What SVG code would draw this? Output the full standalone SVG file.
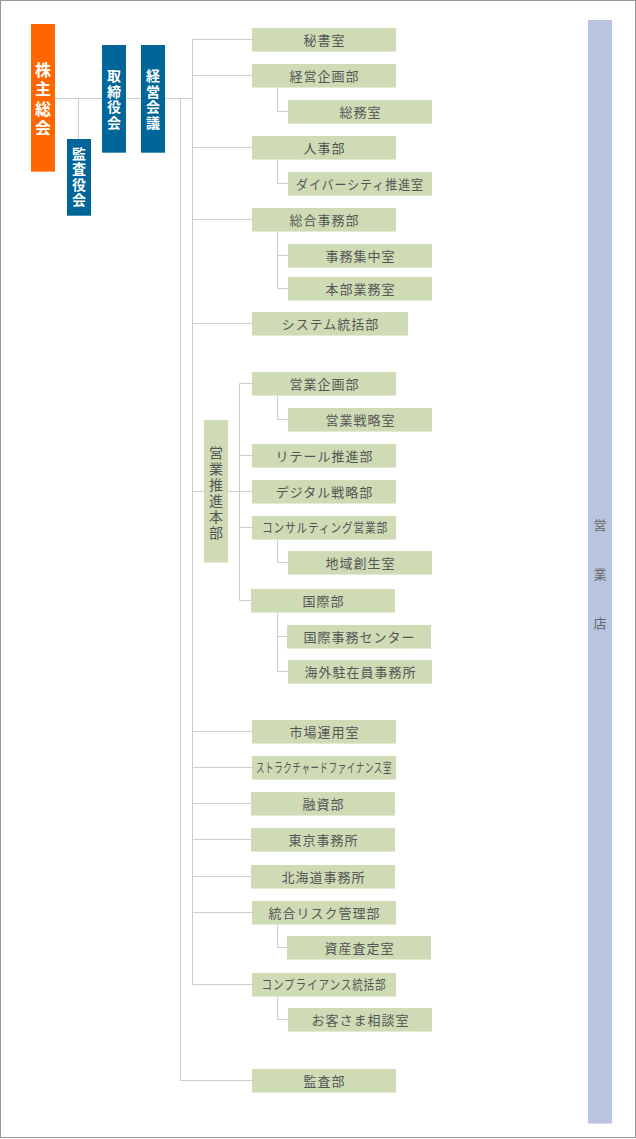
<svg xmlns="http://www.w3.org/2000/svg" width="636" height="1139" viewBox="0 0 636 1139">
<style>
.ln{stroke:#cccccc;stroke-width:1;fill:none}
.g{fill:#cfdbb5}
.gb{fill:#e4ead4}
.t{font-family:"Noto Sans CJK JP","Noto Sans",sans-serif;font-size:13px;fill:#555555;letter-spacing:1px;text-anchor:middle}
.v{font-family:"Noto Sans CJK JP","Noto Sans",sans-serif;text-anchor:middle;writing-mode:vertical-rl}
.w{fill:#ffffff;font-size:14px;font-weight:bold;letter-spacing:1.5px}
.o{fill:#ff6600}
.ob{fill:#ff9a5a}
.b{fill:#006699}
.bb{fill:#4d94b8}
</style>
<rect x="0.5" y="0.5" width="635" height="1137" fill="#ffffff" stroke="#999999"/>
<g id="connectors">
<path class="ln" d="M55 98.5H192.5M78.5 98.5V139M180.5 98.5V1080.5H252M192.5 39V984.5"/>
<path class="ln" d="M192.5 39.5H252M192.5 75.5H252M192.5 147.5H252M192.5 219.5H252M192.5 323.5H252M192.5 491.5H204M228 491.5H252M192.5 731.5H252M192.5 767.5H252M192.5 803.5H251M192.5 839.5H251M192.5 876.5H251M192.5 912.5H252M192.5 984.5H252"/>
<path class="ln" d="M239.5 383.5V600.5H251M239.5 383.5H252M239.5 455.5H252M239.5 527.5H252"/>
<path class="ln" d="M277.5 87V111.5H288M277.5 159V183.5H288M277.5 231V288.5H288M277.5 255.5H288M277.5 395V419.5H288M277.5 539V562.5H288M277.5 612V671.5H288M277.5 636.5H287M277.5 924V947.5H287M277.5 996V1019.5H288"/>
</g>
<g id="n-kabunushi"><rect class="o" x="31" y="24" width="24" height="148"/><rect class="ob" x="31" y="171" width="24" height="1"/>
<text class="v" fill="#ffffff" font-size="16" font-weight="bold" letter-spacing="3.5" x="43" y="100.75">株主総会</text></g>
<g id="n-kansayaku"><rect class="b" x="67" y="139" width="24" height="77"/><rect class="bb" x="67" y="215" width="24" height="1"/>
<text class="v w" x="79" y="177.25">監査役会</text></g>
<g id="n-torishimariyaku"><rect class="b" x="102" y="45" width="24" height="108"/><rect class="bb" x="102" y="152" width="24" height="1"/>
<text class="v w" x="114" y="100">取締役会</text></g>
<g id="n-keieikaigi"><rect class="b" x="141" y="45" width="24" height="108"/><rect class="bb" x="141" y="152" width="24" height="1"/>
<text class="v w" x="153" y="100">経営会議</text></g>
<g id="n-eigyoten"><rect x="588" y="20" width="24" height="1104" fill="#b9c4de"/><rect x="588" y="1123" width="24" height="1" fill="#d3daeb"/>
<text class="v" fill="#666666" font-size="13" letter-spacing="36" x="600" y="592">営業店</text></g>
<g id="n-eigyosuishin"><rect class="g" x="204" y="420" width="24" height="143"/><rect class="gb" x="204" y="562" width="24" height="1"/>
<text class="v" fill="#555555" font-size="14" letter-spacing="2" x="216" y="494">営業推進本部</text></g>
<g id="n-hisho"><rect class="g" x="252" y="28" width="144" height="24"/><rect class="gb" x="252" y="51" width="144" height="1"/><text class="t" x="324.5" y="44.5">秘書室</text></g>
<g id="n-keieikikaku"><rect class="g" x="252" y="64" width="144" height="24"/><rect class="gb" x="252" y="87" width="144" height="1"/><text class="t" x="324.5" y="80.5">経営企画部</text></g>
<g id="n-somu"><rect class="g" x="288" y="100" width="144" height="24"/><rect class="gb" x="288" y="123" width="144" height="1"/><text class="t" x="360.5" y="116.5">総務室</text></g>
<g id="n-jinji"><rect class="g" x="252" y="136" width="144" height="24"/><rect class="gb" x="252" y="159" width="144" height="1"/><text class="t" x="324.5" y="152.5">人事部</text></g>
<g id="n-diversity"><rect class="g" x="288" y="172" width="144" height="24"/><rect class="gb" x="288" y="195" width="144" height="1"/><text class="t" x="360" y="188.5" letter-spacing="0" textLength="128" lengthAdjust="spacingAndGlyphs">ダイバーシティ推進室</text></g>
<g id="n-sogojimu"><rect class="g" x="252" y="208" width="144" height="24"/><rect class="gb" x="252" y="231" width="144" height="1"/><text class="t" x="324.5" y="224.5">総合事務部</text></g>
<g id="n-jimushuchu"><rect class="g" x="288" y="244" width="144" height="24"/><rect class="gb" x="288" y="267" width="144" height="1"/><text class="t" x="360.5" y="260.5">事務集中室</text></g>
<g id="n-honbugyomu"><rect class="g" x="288" y="277" width="144" height="24"/><rect class="gb" x="288" y="300" width="144" height="1"/><text class="t" x="360.5" y="293.5">本部業務室</text></g>
<g id="n-system"><rect class="g" x="252" y="312" width="156" height="24"/><rect class="gb" x="252" y="335" width="156" height="1"/><text class="t" x="330.5" y="328.5">システム統括部</text></g>
<g id="n-eigyokikaku"><rect class="g" x="252" y="372" width="144" height="24"/><rect class="gb" x="252" y="395" width="144" height="1"/><text class="t" x="324.5" y="388.5">営業企画部</text></g>
<g id="n-eigyosenryaku"><rect class="g" x="288" y="408" width="144" height="24"/><rect class="gb" x="288" y="431" width="144" height="1"/><text class="t" x="360.5" y="424.5">営業戦略室</text></g>
<g id="n-retail"><rect class="g" x="252" y="444" width="144" height="24"/><rect class="gb" x="252" y="467" width="144" height="1"/><text class="t" x="324.5" y="460.5">リテール推進部</text></g>
<g id="n-digital"><rect class="g" x="252" y="480" width="144" height="24"/><rect class="gb" x="252" y="503" width="144" height="1"/><text class="t" x="324.5" y="496.5">デジタル戦略部</text></g>
<g id="n-consulting"><rect class="g" x="252" y="516" width="144" height="24"/><rect class="gb" x="252" y="539" width="144" height="1"/><text class="t" x="325" y="532" font-size="12" letter-spacing="0" textLength="126" lengthAdjust="spacingAndGlyphs">コンサルティング営業部</text></g>
<g id="n-chiiki"><rect class="g" x="288" y="551" width="144" height="24"/><rect class="gb" x="288" y="574" width="144" height="1"/><text class="t" x="360.5" y="567.5">地域創生室</text></g>
<g id="n-kokusai"><rect class="g" x="251" y="589" width="144" height="24"/><rect class="gb" x="251" y="612" width="144" height="1"/><text class="t" x="323.5" y="605.5">国際部</text></g>
<g id="n-kokusaijimu"><rect class="g" x="287" y="625" width="144" height="24"/><rect class="gb" x="287" y="648" width="144" height="1"/><text class="t" x="359.5" y="641.5">国際事務センター</text></g>
<g id="n-kaigai"><rect class="g" x="288" y="660" width="144" height="24"/><rect class="gb" x="288" y="683" width="144" height="1"/><text class="t" x="360.5" y="676.5">海外駐在員事務所</text></g>
<g id="n-shijo"><rect class="g" x="252" y="720" width="144" height="24"/><rect class="gb" x="252" y="743" width="144" height="1"/><text class="t" x="324.5" y="736.5">市場運用室</text></g>
<g id="n-structured"><rect class="g" x="252" y="756" width="144" height="24"/><rect class="gb" x="252" y="779" width="144" height="1"/><text class="t" x="324" y="771.5" font-size="10.5" letter-spacing="0" textLength="136" lengthAdjust="spacingAndGlyphs">ストラクチャードファイナンス室</text></g>
<g id="n-yushi"><rect class="g" x="251" y="792" width="144" height="24"/><rect class="gb" x="251" y="815" width="144" height="1"/><text class="t" x="323.5" y="808.5">融資部</text></g>
<g id="n-tokyo"><rect class="g" x="251" y="828" width="144" height="24"/><rect class="gb" x="251" y="851" width="144" height="1"/><text class="t" x="323.5" y="844.5">東京事務所</text></g>
<g id="n-hokkaido"><rect class="g" x="251" y="865" width="144" height="24"/><rect class="gb" x="251" y="888" width="144" height="1"/><text class="t" x="323.5" y="881.5">北海道事務所</text></g>
<g id="n-risk"><rect class="g" x="252" y="901" width="144" height="24"/><rect class="gb" x="252" y="924" width="144" height="1"/><text class="t" x="324.5" y="917.5">統合リスク管理部</text></g>
<g id="n-shisan"><rect class="g" x="287" y="936" width="144" height="24"/><rect class="gb" x="287" y="959" width="144" height="1"/><text class="t" x="359.5" y="952.5">資産査定室</text></g>
<g id="n-compliance"><rect class="g" x="252" y="973" width="144" height="24"/><rect class="gb" x="252" y="996" width="144" height="1"/><text class="t" x="324" y="989" font-size="12" letter-spacing="0" textLength="125" lengthAdjust="spacingAndGlyphs">コンプライアンス統括部</text></g>
<g id="n-okyakusama"><rect class="g" x="288" y="1008" width="144" height="24"/><rect class="gb" x="288" y="1031" width="144" height="1"/><text class="t" x="360.5" y="1024.5">お客さま相談室</text></g>
<g id="n-kansa"><rect class="g" x="252" y="1069" width="144" height="24"/><rect class="gb" x="252" y="1092" width="144" height="1"/><text class="t" x="324.5" y="1085.5">監査部</text></g>
</svg>
